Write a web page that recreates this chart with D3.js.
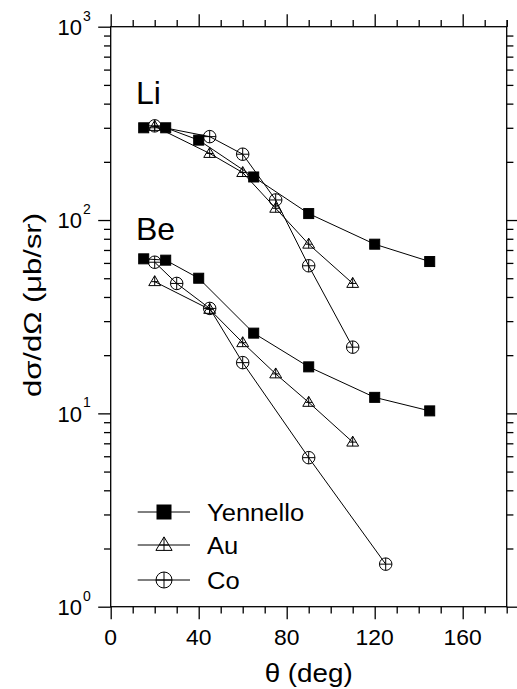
<!DOCTYPE html>
<html>
<head>
<meta charset="utf-8">
<script src="https://cdn.jsdelivr.net/npm/d3@7"></script>
<style>
  html, body { margin: 0; padding: 0; background: #fff; }
  svg { display: block; }
  text { font-family: "Liberation Sans", Arial, Helvetica, sans-serif; fill: #000; }
</style>
</head>
<body>
<svg id="chart" width="517" height="689"></svg>
<script>
// ---- Data ----
const liYenAngles = [15, 25, 40, 65, 90, 120, 145];
const liYen       = [300, 300, 259, 167, 108, 75, 61];
const liAuAngles  = [20, 45, 60, 75, 90, 110];
const liAu        = [305, 221, 176, 115, 75, 47];
const liCoAngles  = [20, 45, 60, 75, 90, 110];
const liCo        = [307, 270, 219, 127, 58, 22];
const beYenAngles = [15, 25, 40, 65, 90, 120, 145];
const beYen       = [63, 62, 50, 26, 17.4, 12.1, 10.3];
const beAuAngles  = [20, 45, 60, 75, 90, 110];
const beAu        = [48, 34.5, 23.2, 16, 11.4, 7.1];
const beCoAngles  = [20, 30, 45, 60, 90, 125];
const beCo        = [60.5, 47, 34.9, 18.3, 5.9, 1.66];

const xMajorTicks = [0, 40, 80, 120, 160];
const xTickLabels = ["0", "40", "80", "120", "160"];
const yMajorTicks = [1, 10, 100, 1000];
const yTickExponents = ["0", "1", "2", "3"];
const legendNames = ["Yennello", "Au", "Co"];
const elementLabels = ["Li", "Be"];

// ---- Layout ----
const svg = d3.select("#chart");
const L = 110.7, R = 506.7, T = 26.7, B = 606.7;
const x = d3.scaleLinear().domain([0, 180]).range([L, R]);
const y = d3.scaleLog().domain([1, 1000]).range([B, T]);

const xMinor = d3.range(0, 181, 10).filter(v => v % 40 !== 0);
const yMinor = [];
[1, 10, 100].forEach(d => { for (let k = 2; k <= 9; k++) yMinor.push(d * k); });

const MAJ = 12.5, MIN = 6.7;
function styleAxis(g) {
  g.select(".domain").remove();
  g.selectAll("line").attr("stroke", "#000").attr("stroke-width", 1.3);
  g.selectAll("text").remove();
}
// bottom
svg.append("g").attr("transform", `translate(0,${B})`)
  .call(d3.axisBottom(x).tickValues(xMajorTicks).tickSize(MAJ).tickFormat("")).call(styleAxis);
svg.append("g").attr("transform", `translate(0,${B})`)
  .call(d3.axisBottom(x).tickValues(xMinor).tickSize(MIN).tickFormat("")).call(styleAxis);
// top
svg.append("g").attr("transform", `translate(0,${T})`)
  .call(d3.axisTop(x).tickValues(xMajorTicks).tickSize(MAJ).tickFormat("")).call(styleAxis);
svg.append("g").attr("transform", `translate(0,${T})`)
  .call(d3.axisTop(x).tickValues(xMinor.concat([180])).tickSize(MIN).tickFormat("")).call(styleAxis);
// left
svg.append("g").attr("transform", `translate(${L},0)`)
  .call(d3.axisLeft(y).tickValues(yMajorTicks).tickSize(MAJ).tickFormat("")).call(styleAxis);
svg.append("g").attr("transform", `translate(${L},0)`)
  .call(d3.axisLeft(y).tickValues(yMinor).tickSize(MIN).tickFormat("")).call(styleAxis);
// right
svg.append("g").attr("transform", `translate(${R},0)`)
  .call(d3.axisRight(y).tickValues(yMajorTicks.slice(0, 3)).tickSize(MAJ).tickFormat("")).call(styleAxis);
svg.append("g").attr("transform", `translate(${R},0)`)
  .call(d3.axisRight(y).tickValues(yMinor).tickSize(MIN).tickFormat("")).call(styleAxis);

// frame
svg.append("rect").attr("x", L).attr("y", T).attr("width", R - L).attr("height", B - T)
  .attr("fill", "none").attr("stroke", "#000").attr("stroke-width", 1.3);

// x tick labels
svg.append("g").selectAll("text").data(xMajorTicks).join("text")
  .attr("transform", d => `translate(${x(d)},${B + 38.5}) scale(1.04,1)`)
  .attr("text-anchor", "middle").attr("font-size", 22)
  .text((d, i) => xTickLabels[i]);

// y tick labels 10^n
const yl = svg.append("g").selectAll("g").data(yMajorTicks).join("g");
yl.append("text").attr("x", 82).attr("y", d => y(d) + 8.3)
  .attr("text-anchor", "end").attr("font-size", 22).text("10");
yl.append("text").attr("x", 83).attr("y", d => y(d) - 6)
  .attr("font-size", 14).text((d, i) => yTickExponents[i]);

// axis titles
svg.append("text").attr("x", (L + R) / 2 + 0).attr("y", 682)
  .attr("text-anchor", "middle").attr("font-size", 25)
  .attr("textLength", 88).attr("lengthAdjust", "spacingAndGlyphs")
  .text("θ (deg)");
svg.append("text").attr("transform", "translate(41,305) rotate(-90)")
  .attr("text-anchor", "middle").attr("font-size", 23.5)
  .attr("textLength", 184).attr("lengthAdjust", "spacingAndGlyphs")
  .text("dσ/dΩ (μb/sr)");

// element labels
svg.append("text").attr("x", 136).attr("y", 103.5).attr("font-size", 32).text(elementLabels[0]);
svg.append("text").attr("x", 136).attr("y", 239.5).attr("font-size", 32).text(elementLabels[1]);

// ---- markers ----
function drawMarker(g, type, cx, cy, s) {
  const sw = 1;
  if (type === "square") {
    g.append("rect").attr("x", cx - s / 2).attr("y", cy - s / 2).attr("width", s).attr("height", s)
      .attr("fill", "#000").attr("stroke", "#000").attr("stroke-width", sw);
  } else if (type === "triangle") {
    const h = s * 0.9, w = s * 1.08;
    const top = cy - h * 0.6, bot = cy + h * 0.4;
    g.append("path").attr("d", `M${cx},${top}L${cx + w / 2},${bot}L${cx - w / 2},${bot}Z`)
      .attr("fill", "none").attr("stroke", "#000").attr("stroke-width", sw);
    g.append("line").attr("x1", cx).attr("x2", cx).attr("y1", top).attr("y2", bot)
      .attr("stroke", "#000").attr("stroke-width", sw);
    g.append("line").attr("x1", cx - w * 0.28).attr("x2", cx + w * 0.28).attr("y1", cy).attr("y2", cy)
      .attr("stroke", "#000").attr("stroke-width", sw);
  } else {
    const r = s / 2;
    g.append("circle").attr("cx", cx).attr("cy", cy).attr("r", r)
      .attr("fill", "none").attr("stroke", "#000").attr("stroke-width", sw);
    g.append("line").attr("x1", cx - r).attr("x2", cx + r).attr("y1", cy).attr("y2", cy)
      .attr("stroke", "#000").attr("stroke-width", sw);
    g.append("line").attr("x1", cx).attr("x2", cx).attr("y1", cy - r).attr("y2", cy + r)
      .attr("stroke", "#000").attr("stroke-width", sw);
  }
}

const series = [
  { a: liYenAngles, v: liYen, type: "square" },
  { a: liAuAngles, v: liAu, type: "triangle" },
  { a: liCoAngles, v: liCo, type: "circle" },
  { a: beYenAngles, v: beYen, type: "square" },
  { a: beAuAngles, v: beAu, type: "triangle" },
  { a: beCoAngles, v: beCo, type: "circle" }
];
const sizes = { square: 10, triangle: 11, circle: 12.5 };
const line = d3.line().x(d => x(d[0])).y(d => y(d[1]));

series.forEach(s => {
  const pts = s.a.map((a, i) => [a, s.v[i]]);
  svg.append("path").attr("d", line(pts)).attr("fill", "none")
    .attr("stroke", "#000").attr("stroke-width", 1);
});
series.forEach(s => {
  const g = svg.append("g");
  s.a.forEach((a, i) => drawMarker(g, s.type, x(a), y(s.v[i]), sizes[s.type]));
});

// ---- legend ----
const legTypes = ["square", "triangle", "circle"];
const legY = [512, 545, 580];
const legSizes = { square: 14, triangle: 15, circle: 16 };
legendNames.forEach((name, i) => {
  const g = svg.append("g");
  g.append("line").attr("x1", 137.7).attr("x2", 190).attr("y1", legY[i]).attr("y2", legY[i])
    .attr("stroke", "#000").attr("stroke-width", 1);
  drawMarker(g, legTypes[i], 164, legY[i], legSizes[legTypes[i]]);
  g.append("text").attr("transform", `translate(207,${legY[i] + 8.5}) scale(1.065,1)`)
    .attr("font-size", 24).text(name);
});
</script>
</body>
</html>
